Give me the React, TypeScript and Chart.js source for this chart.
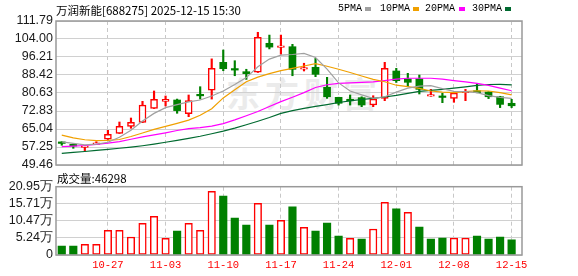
import React, { useEffect, useRef } from "react";
import { Chart, registerables } from "chart.js";
Chart.register(...registerables);

const dates = ["10-21","10-22","10-23","10-24","10-27","10-28","10-29","10-30","10-31","11-03","11-04","11-05","11-06","11-07","11-10","11-11","11-12","11-13","11-14","11-17","11-18","11-19","11-20","11-21","11-24","11-25","11-26","11-27","11-28","12-01","12-02","12-03","12-04","12-05","12-08","12-09","12-10","12-11","12-12","12-15"];
const opens = [58.85,58.42,57.1,58.4,60.6,63.18,66.21,67.94,74.0,77.03,77.6,71.7,79.5,81.8,93.9,90.65,89.85,89.6,102.14,100.35,100.66,90.95,91.75,83.1,78.76,77.35,78.6,75.43,78.3,90.15,86.7,86.7,79.3,78.8,78.3,80.75,81.6,81.05,79.0,76.17];
const highs = [59.55,58.55,57.8,59.55,64.48,68.07,69.8,77.03,81.5,79.33,78.0,79.76,83.35,95.4,99.24,94.6,90.9,106.9,105.7,105.7,101.7,93.5,95.6,87.4,78.8,79.76,79.0,79.45,93.9,91.3,89.15,88.4,82.2,80.5,80.7,82.2,84.5,81.2,79.2,77.9];
const lows = [58.0,56.69,55.5,58.3,60.5,63.1,65.35,67.8,73.9,74.99,71.84,70.37,78.0,78.0,90.27,88.1,86.5,89.5,99.7,97.4,88.1,90.15,87.7,78.3,75.4,75.4,74.7,74.7,77.3,85.2,83.35,80.2,79.2,76.43,76.6,77.3,80.7,78.2,74.3,74.3];
const closes = [58.8,57.68,57.7,58.85,62.75,66.21,67.94,75.43,77.9,77.9,73.0,77.3,79.4,91.3,91.14,90.55,88.98,104.7,100.5,100.45,90.87,91.05,88.7,79.0,76.17,77.25,75.43,78.0,91.3,85.95,85.26,82.2,79.35,78.7,80.6,80.85,80.76,79.0,75.7,75.1];

const ma5 = [59.5,58.8,58.2,58.5,59.3,61.5,64.5,68.5,71.8,74.3,75.6,76.8,77.6,79.3,81.5,84.3,87.3,92.0,95.3,97.0,97.3,97.8,96.0,91.0,85.0,81.5,79.8,78.3,79.0,81.0,82.7,83.6,83.8,82.5,81.3,81.2,80.8,79.5,78.7,78.3];
const ma10 = [62.4,61.2,60.4,60.0,60.1,60.5,61.8,63.3,64.9,66.2,67.5,68.9,71.0,73.8,78.5,82.0,85.5,87.5,89.0,90.3,91.3,92.3,93.3,92.2,90.9,89.5,88.0,86.5,85.5,84.0,83.4,82.6,81.5,81.0,80.8,81.2,81.6,81.5,80.8,79.8];
const ma20 = [57.4,57.6,57.9,58.4,58.9,59.6,60.6,61.6,62.5,63.4,64.4,65.2,65.6,66.3,67.4,69.0,70.8,72.6,74.8,76.9,78.8,80.8,83.0,84.2,84.8,85.0,85.2,85.4,86.0,86.6,87.0,87.0,87.0,86.6,86.0,85.4,84.8,83.9,82.7,81.6];
const ma30 = [54.5,54.9,55.3,55.8,56.2,56.7,57.2,57.8,58.5,59.3,60.1,61.0,61.9,63.0,64.1,65.4,66.9,68.4,70.0,71.8,73.0,74.0,74.8,75.6,76.5,77.2,77.8,78.3,78.9,79.6,80.5,81.3,81.8,82.2,82.7,83.3,83.9,84.3,84.4,84.1];

const volumes = [2.76,2.76,3.27,3.27,7.57,7.57,5.52,9.7,11.86,5.11,7.36,9.7,7.57,19.5,18.1,11.35,9.2,15.85,9.2,10.63,14.8,8.49,7.36,9.8,5.83,5.11,4.9,7.97,16.16,14.2,13.1,8.59,4.9,5.2,5.2,5.2,5.83,4.9,5.52,4.63];
const volUp = [0,0,1,1,1,1,1,1,1,1,0,1,1,1,0,0,0,1,0,1,0,1,0,0,0,1,0,1,1,0,1,0,0,0,1,1,0,0,0,0];

const priceTicks = [49.46,57.25,65.04,72.83,80.63,88.42,96.21,104.0,111.79];
const volTicks = [0,5.24,10.47,15.71,20.95];
const volTickLabels = ["0","5.24万","10.47万","15.71万","20.95万"];
const axisDates = ["10-27","11-03","11-10","11-17","11-24","12-01","12-08","12-15"];

const UP = "#ff0000";
const DOWN = "#008000";
const GRID = "#d0d0d0";
const VGRID = "#c8c8c8";

const frame = {
  id: "frame",
  afterDraw(chart: any) {
    const { ctx, chartArea: a } = chart;
    ctx.save();
    ctx.strokeStyle = "#999";
    ctx.lineWidth = 1.5;
    ctx.strokeRect(a.left, a.top, a.right - a.left, a.bottom - a.top);
    ctx.restore();
  },
};

const xScale = (showLabels: boolean) => ({
  type: "linear",
  offset: false,
  min: -0.5,
  max: 39.9,
  afterBuildTicks: (s: any) => {
    s.ticks = axisDates.map((d) => ({ value: dates.indexOf(d) }));
  },
  afterFit: (s: any) => {
    s.height = showLabels ? 21 : 0;
  },
  grid: { color: VGRID, drawTicks: false, lineWidth: 1, offset: false },
  border: { display: false, dash: [4, 3] },
  ticks: {
    display: showLabels,
    autoSkip: false,
    maxRotation: 0,
    padding: 4,
    color: UP,
    font: { family: "Liberation Mono", size: 10.5 },
    callback: (v: any) => dates[Math.round(v)],
  },
});

const yTicks = (cb: (v: any) => string) => ({
  padding: 3,
  autoSkip: false,
  color: "#1a1a1a",
  font: { family: "Liberation Sans", size: 12.5 },
  callback: cb,
});

export default function App() {
  const priceRef = useRef<HTMLCanvasElement>(null);
  const volRef = useRef<HTMLCanvasElement>(null);

  useEffect(() => {
    const idx = dates.map((_, i) => i);
    const isUp = idx.map((i) => closes[i] >= opens[i]);
    const line = (label: string, arr: number[], color: string) => ({
      type: "line",
      label,
      data: arr.map((v, i) => ({ x: i, y: v })),
      borderColor: color,
      borderWidth: 1.2,
      pointRadius: 0,
      tension: 0,
    });
    const priceChart = new Chart(priceRef.current as HTMLCanvasElement, {
      type: "bar",
      data: {
        datasets: [
          line("5PMA", ma5, "#a0a0a0"),
          line("10PMA", ma10, "#f0a000"),
          line("20PMA", ma20, "#ff00ff"),
          line("30PMA", ma30, "#006a30"),
          {
            type: "bar",
            label: "body",
            data: idx.map((i) => ({ x: i, y: [Math.min(opens[i], closes[i]), Math.max(opens[i], closes[i])] })),
            backgroundColor: idx.map((i) => (isUp[i] ? "#ffffff" : DOWN)),
            borderColor: idx.map((i) => (isUp[i] ? UP : DOWN)),
            borderWidth: idx.map((i) => (isUp[i] ? 1.5 : 0)),
            borderSkipped: false,
            barThickness: 7,
            minBarLength: 1.5,
            grouped: false,
          },
          {
            type: "bar",
            label: "wick",
            data: idx.map((i) => ({ x: i, y: [lows[i], highs[i]] })),
            backgroundColor: idx.map((i) => (isUp[i] ? UP : DOWN)),
            borderWidth: 0,
            barThickness: 1.5,
            grouped: false,
          },
        ] as any,
      },
      options: {
        animation: false,
        responsive: false,
        events: [],
        layout: { padding: { left: 0, right: 56, top: 21, bottom: 15 } },
        plugins: { legend: { display: false }, tooltip: { enabled: false } },
        scales: {
          x: xScale(false) as any,
          y: {
            type: "linear",
            min: 49.46,
            max: 111.79,
            afterBuildTicks: (s: any) => {
              s.ticks = priceTicks.map((v) => ({ value: v }));
            },
            afterFit: (s: any) => {
              s.width = 56;
            },
            grid: { color: GRID, drawTicks: false },
            border: { display: false },
            ticks: yTicks((v: any) => Number(v).toFixed(2)) as any,
          },
        },
      },
      plugins: [frame],
    });

    const volChart = new Chart(volRef.current as HTMLCanvasElement, {
      type: "bar",
      data: {
        datasets: [
          {
            label: "vol",
            data: idx.map((i) => ({ x: i, y: volumes[i] })),
            backgroundColor: idx.map((i) => (volUp[i] ? "#ffffff" : DOWN)),
            borderColor: idx.map((i) => (volUp[i] ? UP : DOWN)),
            borderWidth: idx.map((i) => (volUp[i] ? 1.5 : 0)),
            borderSkipped: false,
            barThickness: 7.5,
          },
        ] as any,
      },
      options: {
        animation: false,
        responsive: false,
        events: [],
        layout: { padding: { left: 0, right: 56, top: 20.7, bottom: 0 } },
        plugins: { legend: { display: false }, tooltip: { enabled: false } },
        scales: {
          x: xScale(true) as any,
          y: {
            type: "linear",
            min: 0,
            max: 20.95,
            afterBuildTicks: (s: any) => {
              s.ticks = volTicks.map((v) => ({ value: v }));
            },
            afterFit: (s: any) => {
              s.width = 56;
            },
            grid: { color: GRID, drawTicks: false },
            border: { display: false },
            ticks: yTicks((v: any) => volTickLabels[volTicks.indexOf(Number(v))] ?? "") as any,
          },
        },
      },
      plugins: [frame],
    });

    return () => {
      priceChart.destroy();
      volChart.destroy();
    };
  }, []);

  const legend = [
    { text: "5PMA", color: "#a0a0a0", x: 338, sx: 365 },
    { text: "10PMA", color: "#f0a000", x: 380, sx: 413 },
    { text: "20PMA", color: "#ff00ff", x: 425, sx: 459 },
    { text: "30PMA", color: "#006a30", x: 472, sx: 505 },
  ];

  return (
    <div style={{ position: "fixed", left: 0, top: 0, width: 578, height: 276, background: "#fff", overflow: "hidden" }}>
      <div
        style={{
          position: "absolute",
          left: 226,
          top: 76,
          fontFamily: "'Noto Sans CJK SC'",
          fontWeight: 700,
          fontSize: 34,
          lineHeight: "34px",
          letterSpacing: 5,
          color: "#ebebeb",
          whiteSpace: "nowrap",
        }}
      >
        东方财富
      </div>
      <canvas ref={priceRef} width={578} height={180} style={{ position: "absolute", left: 0, top: 0, width: 578, height: 180 }} />
      <canvas ref={volRef} width={578} height={110} style={{ position: "absolute", left: 0, top: 166, width: 578, height: 110 }} />
      <div
        style={{
          position: "absolute",
          left: 56,
          top: 2,
          fontFamily: "'Noto Sans CJK SC'",
          fontSize: 11.5,
          lineHeight: "16px",
          color: "#000",
          whiteSpace: "nowrap",
        }}
      >
        万润新能[688275] 2025-12-15 15:30
      </div>
      {legend.map((l) => (
        <React.Fragment key={l.text}>
          <div
            style={{
              position: "absolute",
              left: l.x,
              top: 2,
              fontFamily: "'Liberation Mono'",
              fontSize: 10,
              lineHeight: "14px",
              color: "#000",
              whiteSpace: "nowrap",
            }}
          >
            {l.text}
          </div>
          <div style={{ position: "absolute", left: l.sx, top: 7, width: 6, height: 4, background: l.color }} />
        </React.Fragment>
      ))}
      <div
        style={{
          position: "absolute",
          left: 57,
          top: 170,
          fontFamily: "'Noto Sans CJK SC'",
          fontSize: 11.5,
          lineHeight: "16px",
          color: "#000",
          whiteSpace: "nowrap",
        }}
      >
        成交量:46298
      </div>
    </div>
  );
}
